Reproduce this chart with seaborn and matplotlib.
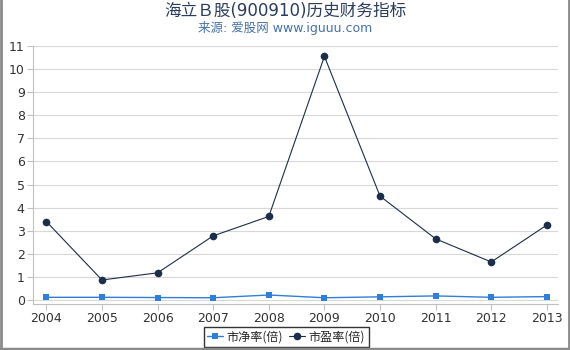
import matplotlib
matplotlib.use("Agg")
import matplotlib.pyplot as plt
import seaborn as sns
import pandas as pd
from matplotlib.lines import Line2D

years = ["2004", "2005", "2006", "2007", "2008", "2009", "2010", "2011", "2012", "2013"]
pb = [0.12, 0.12, 0.11, 0.10, 0.22, 0.10, 0.14, 0.18, 0.12, 0.15]
pe = [3.40, 0.87, 1.18, 2.78, 3.62, 10.55, 4.50, 2.65, 1.65, 3.25]
yticks = list(range(0, 12))

sns.set_theme(style="white")
plt.rcParams['font.family'] = ['DejaVu Sans', 'Noto Sans CJK SC']

df = pd.DataFrame({"year": range(len(years)), "pb": pb, "pe": pe})

fig = plt.figure(figsize=(5.7, 3.5), dpi=100)
ax = fig.add_axes([33/570, 1 - 304/350, (558-33)/570, (304-46)/350])

sns.lineplot(data=df, x="year", y="pb", ax=ax, color="#2f7ed8", marker="s",
             markersize=5, linewidth=1, markeredgewidth=0, label="市净率(倍)")
sns.lineplot(data=df, x="year", y="pe", ax=ax, color="#1c2e4a", marker="o",
             markersize=5.5, linewidth=0.8, markeredgewidth=0, label="市盈率(倍)")

ax.set_xlim(-0.24, 9.2)
ax.set_ylim(-0.17, 11)
ax.set_yticks(yticks)
ax.set_xticks(range(len(years)))
ax.set_xticklabels(years)
ax.set_xlabel("")
ax.set_ylabel("")
ax.yaxis.grid(True, color="#d8d8d8", linewidth=0.8)
ax.set_axisbelow(True)
for s in ["top", "right"]:
    ax.spines[s].set_visible(False)
for s in ["left", "bottom"]:
    ax.spines[s].set_color("#c0c0c0")
    ax.spines[s].set_linewidth(0.8)
ax.tick_params(axis="both", colors="#c0c0c0", labelcolor="#333333", labelsize=9,
               length=4, width=0.8, direction="out", left=True, bottom=True, pad=2)

leg = ax.legend(loc="upper center", bbox_to_anchor=(0.482, -0.088), ncol=2, frameon=True,
                handlelength=1.3, handletextpad=0.3, columnspacing=0.5,
                borderpad=0.3, borderaxespad=0, fancybox=False,
                prop={"family": ["Noto Sans CJK SC", "DejaVu Sans"], "size": 8.7})
leg.get_frame().set_edgecolor("#000000")
leg.get_frame().set_linewidth(1)

fig.text(0.5, 1 - 11/350, "海立Ｂ股(900910)历史财务指标", ha="center", va="center",
         fontsize=12, color="#2b3d5c")
fig.text(0.5, 1 - 28/350, "来源: 爱股网 www.iguuu.com", ha="center", va="center",
         fontsize=9, color="#4572a7")

gray = "#8a8a8a"
fig.add_artist(Line2D([1/570, 1/570], [0, 1], color=gray, linewidth=2, transform=fig.transFigure))
fig.add_artist(Line2D([568.5/570, 568.5/570], [0, 1], color=gray, linewidth=2, transform=fig.transFigure))
fig.add_artist(Line2D([0, 1], [1.5/350, 1.5/350], color=gray, linewidth=2.5, transform=fig.transFigure))

fig.savefig("out.png", dpi=100)
